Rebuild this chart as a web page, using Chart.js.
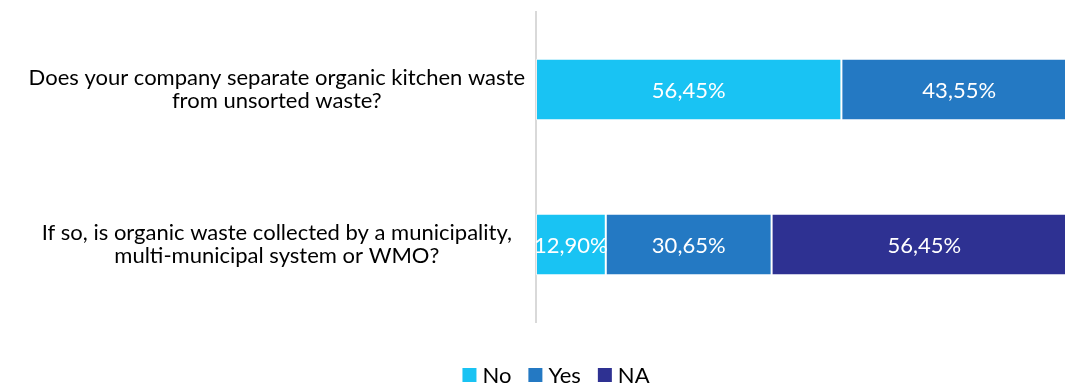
<!DOCTYPE html>
<html>
<head>
<meta charset="utf-8">
<script src="https://cdn.jsdelivr.net/npm/chart.js@4"></script>
<style>
  html, body { margin: 0; padding: 0; background: #fff; }
  /* the plot runs past the right edge and is cut off there */
  #wrap { width: 1065px; height: 383px; overflow: hidden; }
  #chart { display: block; }
</style>
</head>
<body>
<div id="wrap"><canvas id="chart" width="1080" height="383"></canvas></div>
<script>
const questions = [
  ["Does your company separate organic kitchen waste", "from unsorted waste?"],
  ["If so, is organic waste collected by a municipality,", "multi-municipal system or WMO?"]
];
const seriesNames = ["No", "Yes", "NA"];
const noValues = [56.45, 12.90];
const yesValues = [43.55, 30.65];
const naValues = [0, 56.45];
const seriesColors = ["#19c3f3", "#2479c3", "#2e3192"];

const FONT = "Lato, 'Open Sans', sans-serif";

// white percentage labels in the middle of each segment
const segmentLabels = {
  id: "segmentLabels",
  afterDatasetsDraw(chart) {
    const { ctx } = chart;
    ctx.save();
    ctx.fillStyle = "#ffffff";
    ctx.font = "22px " + FONT;
    ctx.textAlign = "center";
    ctx.textBaseline = "middle";
    chart.data.datasets.forEach((ds, i) => {
      chart.getDatasetMeta(i).data.forEach((bar, j) => {
        const v = ds.data[j];
        if (!v) return;
        const cx = (bar.x + bar.base) / 2;
        ctx.fillText(v.toFixed(2).replace(".", ",") + "%", cx, bar.y + 1);
      });
    });
    ctx.restore();
  }
};

// square-box legend drawn under the plot
const bottomLegend = {
  id: "bottomLegend",
  afterDraw(chart) {
    const { ctx } = chart;
    const box = 14, gap = 6, itemGap = 17, y = 375, centerX = 556;
    ctx.save();
    ctx.font = "22px " + FONT;
    ctx.textBaseline = "middle";
    ctx.textAlign = "left";
    const items = chart.data.datasets.map(ds => ({
      text: ds.label,
      color: ds.backgroundColor,
      w: box + gap + ctx.measureText(ds.label).width
    }));
    const total = items.reduce((s, it) => s + it.w, 0) + itemGap * (items.length - 1);
    let x = centerX - total / 2;
    items.forEach(it => {
      ctx.fillStyle = it.color;
      ctx.fillRect(x, y - box / 2, box, box);
      ctx.fillStyle = "#000";
      ctx.fillText(it.text, x + box + gap, y + 1);
      x += it.w + itemGap;
    });
    ctx.restore();
  }
};

const values = [noValues, yesValues, naValues];

new Chart(document.getElementById("chart"), {
  type: "bar",
  data: {
    labels: questions,
    datasets: seriesNames.map((name, i) => ({
      label: name,
      data: values[i],
      backgroundColor: seriesColors[i],
      borderColor: "rgba(255,255,255,0.55)",
      borderWidth: 1,
      borderSkipped: false,
      barPercentage: 0.6,
      categoryPercentage: 0.66
    }))
  },
  options: {
    indexAxis: "y",
    responsive: false,
    animation: false,
    layout: { padding: { top: 12, left: 10, right: 3, bottom: 61 } },
    plugins: {
      legend: { display: false },
      tooltip: { enabled: false }
    },
    scales: {
      x: {
        stacked: true,
        min: 0,
        max: 100,
        display: false
      },
      y: {
        stacked: true,
        grid: { display: false },
        border: { display: true, color: "#d9d9d9", width: 2 },
        ticks: {
          crossAlign: "center",
          color: "#000",
          font: { family: FONT, size: 22, lineHeight: 1.05 }
        },
        afterFit(axis) {
          axis.width = 526;
          axis.paddingTop = 0;
          axis.paddingBottom = 0;
        }
      }
    }
  },
  plugins: [segmentLabels, bottomLegend]
});
</script>
</body>
</html>
